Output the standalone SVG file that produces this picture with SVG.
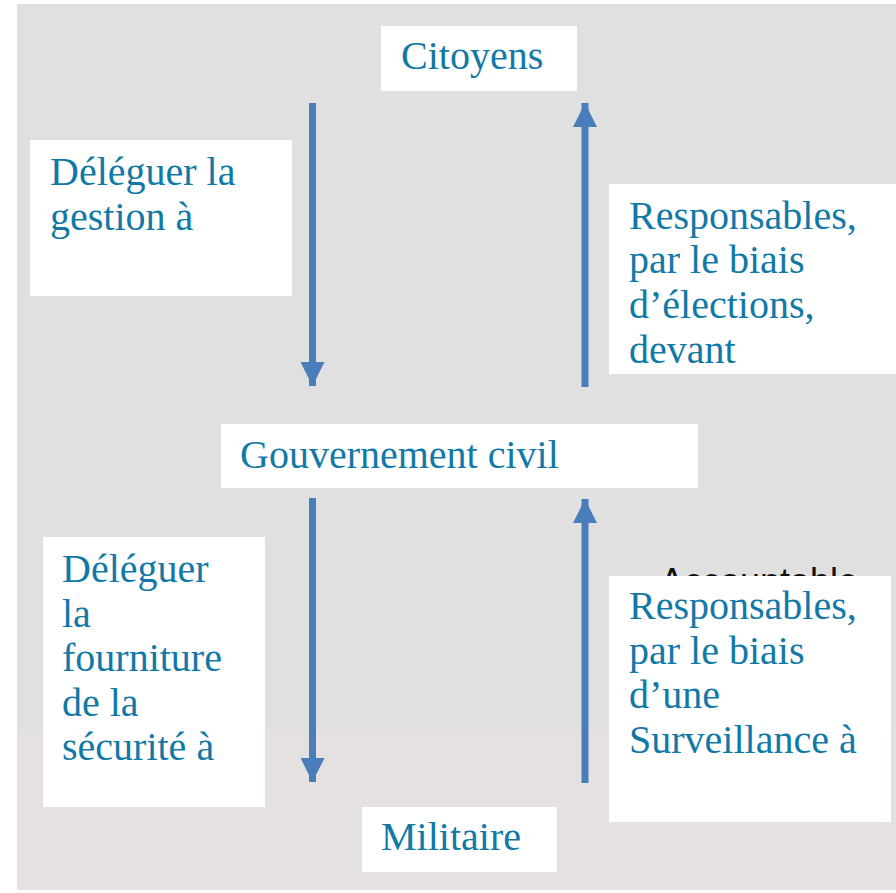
<svg xmlns="http://www.w3.org/2000/svg" width="896" height="893" viewBox="0 0 896 893">
<style>
.box{fill:#ffffff}
.t{font-family:"Liberation Serif","Times New Roman",serif;font-size:40px;fill:#1279a6}
.shaft{stroke:#4a7ebb;stroke-width:7;fill:none}
</style>
<defs>
<marker id="ah" viewBox="0 0 24 24" refX="24" refY="12" markerWidth="24" markerHeight="24" markerUnits="userSpaceOnUse" orient="auto">
<path d="M0,0 L24,12 L0,24 Z" fill="#4a7ebb"/>
</marker>
</defs>
<rect x="0" y="0" width="896" height="893" fill="#ffffff"/>
<rect x="17" y="4" width="879" height="726" fill="#e0e0e0"/>
<rect x="17" y="730" width="879" height="160" fill="#e5e1e1"/>
<text x="660" y="594" style="font-family:'Liberation Sans',Arial,sans-serif;font-size:36px;fill:#111111">Accountable</text>
<g id="connectors">
<path class="shaft" d="M312.5,103 L312.5,386" marker-end="url(#ah)"/>
<path class="shaft" d="M585,387 L585,103" marker-end="url(#ah)"/>
<path class="shaft" d="M312.5,498 L312.5,782" marker-end="url(#ah)"/>
<path class="shaft" d="M585,783 L585,499" marker-end="url(#ah)"/>
</g>
<g id="citoyens">
<rect class="box" x="381" y="26" width="196" height="65"/>
<text class="t" x="401" y="69">Citoyens</text>
</g>
<g id="deleguer-gestion">
<rect class="box" x="30" y="140" width="262" height="156"/>
<text class="t" x="50" y="185">Déléguer la</text>
<text class="t" x="50" y="230">gestion à</text>
</g>
<g id="responsables-elections">
<rect class="box" x="609" y="184" width="287" height="190"/>
<text class="t" x="629" y="229">Responsables,</text>
<text class="t" x="629" y="273">par le biais</text>
<text class="t" x="629" y="318">d’élections,</text>
<text class="t" x="629" y="363">devant</text>
</g>
<g id="gouvernement">
<rect class="box" x="221" y="424" width="477" height="64"/>
<text class="t" x="240" y="468">Gouvernement civil</text>
</g>
<g id="deleguer-securite">
<rect class="box" x="43" y="537" width="222" height="270"/>
<text class="t" x="62" y="582">Déléguer</text>
<text class="t" x="62" y="627">la</text>
<text class="t" x="62" y="671">fourniture</text>
<text class="t" x="62" y="716">de la</text>
<text class="t" x="62" y="760">sécurité à</text>
</g>
<g id="responsables-surveillance">
<rect class="box" x="609" y="576" width="282" height="246"/>
<text class="t" x="629" y="619">Responsables,</text>
<text class="t" x="629" y="664">par le biais</text>
<text class="t" x="629" y="708">d’une</text>
<text class="t" x="629" y="753">Surveillance à</text>
</g>
<g id="militaire">
<rect class="box" x="362" y="807" width="195" height="65"/>
<text class="t" x="381" y="850">Militaire</text>
</g>
</svg>
